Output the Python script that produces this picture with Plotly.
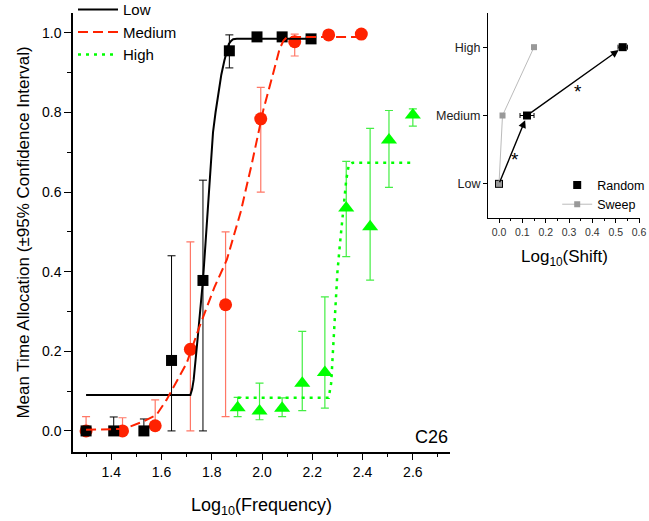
import plotly.graph_objects as go

# ---- Main panel: mean time allocation vs log10(frequency) ----
low_x = [1.30, 1.41, 1.53, 1.64, 1.765, 1.87, 1.98, 2.08, 2.195]
low_y = [0.0, 0.0, 0.0, 0.177, 0.378, 0.955, 0.99, 0.99, 0.985]
low_up = [0.0, 0.035, 0.03, 0.263, 0.252, 0.04, 0.0, 0.0, 0.0]
low_dn = [0.0, 0.0, 0.0, 0.177, 0.378, 0.043, 0.0, 0.0, 0.0]

med_x = [1.30, 1.445, 1.575, 1.715, 1.855, 1.995, 2.13, 2.265, 2.395]
med_y = [0.0, 0.0, 0.013, 0.205, 0.317, 0.784, 0.978, 0.995, 0.997]
med_up = [0.036, 0.033, 0.065, 0.27, 0.183, 0.079, 0.019, 0.0, 0.0]
med_dn = [0.0, 0.0, 0.0, 0.205, 0.281, 0.184, 0.036, 0.0, 0.0]

high_x = [1.903, 1.99, 2.08, 2.16, 2.25, 2.335, 2.43, 2.505, 2.60]
high_y = [0.058, 0.05, 0.057, 0.12, 0.147, 0.56, 0.513, 0.731, 0.794]
high_up = [0.026, 0.07, 0.026, 0.13, 0.19, 0.117, 0.247, 0.074, 0.015]
high_dn = [0.022, 0.022, 0.021, 0.069, 0.09, 0.122, 0.134, 0.119, 0.028]

# fitted psychometric curves
low_fit_x = [1.30, 1.715, 1.722, 1.728, 1.745, 1.765, 1.775, 1.785, 1.795, 1.805, 1.815,
             1.825, 1.838, 1.85, 1.86, 1.868, 1.877, 1.885, 1.90, 2.215]
low_fit_y = [0.09, 0.09, 0.105, 0.128, 0.24, 0.378, 0.47, 0.56, 0.665, 0.75, 0.80,
             0.845, 0.895, 0.93, 0.958, 0.972, 0.98, 0.984, 0.985, 0.985]

med_fit_x = [1.30, 1.45, 1.525, 1.58, 1.62, 1.70, 1.75, 1.81, 1.86, 1.915, 1.96, 2.005,
             2.045, 2.07, 2.085, 2.10, 2.41]
med_fit_y = [0.003, 0.005, 0.023, 0.04, 0.078, 0.17, 0.26, 0.36, 0.43, 0.55, 0.673, 0.806,
             0.90, 0.96, 0.98, 0.99, 0.99]

high_fit_x = [1.903, 2.265, 2.275, 2.29, 2.30, 2.31, 2.325, 2.335, 2.345, 2.36, 2.595]
high_fit_y = [0.083, 0.083, 0.12, 0.28, 0.40, 0.47, 0.564, 0.63, 0.668, 0.674, 0.674]

x_ticks = [1.4, 1.6, 1.8, 2.0, 2.2, 2.4, 2.6]
y_ticks = [0.0, 0.2, 0.4, 0.6, 0.8, 1.0]

# ---- Inset: log10(shift) per condition ----
cond_labels = ["Low", "Medium", "High"]
cond_pos = [0, 1, 2]
random_shift = [0.0, 0.12, 0.53]
random_err = [0.015, 0.03, 0.02]
sweep_shift = [0.0, 0.015, 0.15]
inset_ticks = [0.0, 0.1, 0.2, 0.3, 0.4, 0.5, 0.6]

BLACK = "#000000"
RED = "#ff2200"
RED_ERR = "#ff7766"
GREEN = "#00ff00"
GREEN_ERR = "#44ee44"
GREY = "#999999"
FONT = "Liberation Sans, Arial, sans-serif"

fig = go.Figure()

# error-bar marker series (kept out of the legend)
fig.add_trace(go.Scatter(
    x=high_x, y=high_y, mode="markers", showlegend=False,
    marker=dict(symbol="triangle-up", size=14, color=GREEN),
    error_y=dict(type="data", array=high_up, arrayminus=high_dn, color=GREEN_ERR,
                 thickness=1.2, width=4)))
fig.add_trace(go.Scatter(
    x=med_x, y=med_y, mode="markers", showlegend=False,
    marker=dict(symbol="circle", size=13, color=RED),
    error_y=dict(type="data", array=med_up, arrayminus=med_dn, color=RED_ERR,
                 thickness=1.2, width=4)))
fig.add_trace(go.Scatter(
    x=low_x, y=low_y, mode="markers", showlegend=False,
    marker=dict(symbol="square", size=11, color=BLACK),
    error_y=dict(type="data", array=low_up, arrayminus=low_dn, color=BLACK,
                 thickness=1, width=4)))

# fit curves (legend entries)
fig.add_trace(go.Scatter(x=low_fit_x, y=low_fit_y, mode="lines", name="Low",
                         line=dict(color=BLACK, width=2), legend="legend"))
fig.add_trace(go.Scatter(x=med_fit_x, y=med_fit_y, mode="lines", name="Medium",
                         line=dict(color=RED, width=2, dash="10px,5px"),
                         legend="legend"))
fig.add_trace(go.Scatter(x=high_fit_x, y=high_fit_y, mode="lines", name="High",
                         line=dict(color=GREEN, width=2.5, dash="3px,5px"),
                         legend="legend"))

# inset traces
fig.add_trace(go.Scatter(
    x=random_shift, y=cond_pos, mode="markers", name="Random",
    xaxis="x2", yaxis="y2", legend="legend2",
    marker=dict(symbol="square", size=8, color=BLACK),
    error_x=dict(type="data", array=random_err, color=BLACK, thickness=1, width=2.5)))
fig.add_trace(go.Scatter(
    x=sweep_shift, y=cond_pos, mode="lines+markers", name="Sweep",
    xaxis="x2", yaxis="y2", legend="legend2",
    line=dict(color="#bbbbbb", width=1),
    marker=dict(symbol="square", size=6, color=GREY)))

annotations = []
# arrows between successive Random points
for i in range(len(random_shift) - 1):
    annotations.append(dict(
        x=random_shift[i + 1], y=cond_pos[i + 1], ax=random_shift[i], ay=cond_pos[i],
        xref="x2", yref="y2", axref="x2", ayref="y2", text="", showarrow=True,
        arrowhead=2, arrowsize=1.1, arrowwidth=1.4, arrowcolor=BLACK, standoff=5))
annotations.append(dict(x=0.07, y=0.36, xref="x2", yref="y2", text="*", showarrow=False,
                        font=dict(size=19, color=BLACK, family=FONT)))
annotations.append(dict(x=0.34, y=1.35, xref="x2", yref="y2", text="*", showarrow=False,
                        font=dict(size=19, color=BLACK, family=FONT)))
annotations.append(dict(x=0.5, y=-0.13, xref="x2 domain", yref="y2 domain",
                        yanchor="top", text="Log<sub>10</sub>(Shift)", showarrow=False,
                        font=dict(size=17, color=BLACK, family=FONT)))
annotations.append(dict(x=1.0, y=0.035, xref="x domain", yref="y domain", text="C26",
                        showarrow=False, xanchor="right", yanchor="middle",
                        font=dict(size=18, color=BLACK, family=FONT)))

axis_common = dict(showline=True, linecolor=BLACK, linewidth=1.5, ticks="outside",
                   tickcolor=BLACK, showgrid=False, zeroline=False, mirror=False)

fig.update_layout(
    width=649, height=521,
    margin=dict(l=73, r=9, t=13, b=69, autoexpand=False),
    paper_bgcolor="white", plot_bgcolor="white",
    font=dict(family=FONT, color=BLACK),
    xaxis=dict(domain=[0, 0.665], range=[1.248, 2.748], tickvals=x_ticks,
               ticktext=[f"{v:.1f}" for v in x_ticks], ticklen=6, tickwidth=1.2,
               tickfont=dict(size=14), minor=dict(dtick=0.1, tick0=1.3, ticklen=3,
                                                  tickwidth=1.2, tickcolor=BLACK, ticks="outside"),
               title=dict(text="Log<sub>10</sub>(Frequency)", font=dict(size=18), standoff=20),
               automargin=False, **axis_common),
    yaxis=dict(domain=[0, 1], range=[-0.053, 1.05], tickvals=y_ticks,
               ticktext=[f"{v:.1f}" for v in y_ticks], ticklen=7, tickwidth=1.2,
               tickfont=dict(size=14), minor=dict(dtick=0.1, tick0=0.1, ticklen=4,
                                                  tickwidth=1.2, tickcolor=BLACK, ticks="outside"),
               title=dict(text="Mean Time Allocation (\u00b195% Confidence Interval)",
                          font=dict(size=17), standoff=8),
               automargin=False, **axis_common),
    xaxis2=dict(domain=[0.732, 1.0], anchor="y2", range=[-0.047, 0.604],
                tickvals=inset_ticks, ticktext=[f"{v:.1f}" for v in inset_ticks],
                ticklen=4, tickwidth=1, tickfont=dict(size=10.5, color="#333333"),
                minor=dict(dtick=0.05, tick0=0.05, ticklen=2, tickwidth=1,
                           tickcolor=BLACK, ticks="outside"),
                automargin=False, **{**axis_common, "linewidth": 1.2}),
    yaxis2=dict(domain=[0.533, 1.0], anchor="x2", range=[-0.5, 2.5],
                tickvals=cond_pos, ticktext=cond_labels, ticklen=4, tickwidth=1,
                tickfont=dict(size=12.5, color="#222222"),
                automargin=False, **{**axis_common, "linewidth": 1.2}),
    legend=dict(x=0.0, y=1.045, xanchor="left", yanchor="top", bgcolor="rgba(0,0,0,0)",
                font=dict(size=15), tracegroupgap=0, itemwidth=40,
                borderwidth=0),
    legend2=dict(x=1.018, y=0.53, xanchor="right", yanchor="bottom",
                 bgcolor="rgba(0,0,0,0)", font=dict(size=12.5), itemwidth=30,
                 borderwidth=0),
    annotations=annotations,
)

fig.write_html("out.html")
